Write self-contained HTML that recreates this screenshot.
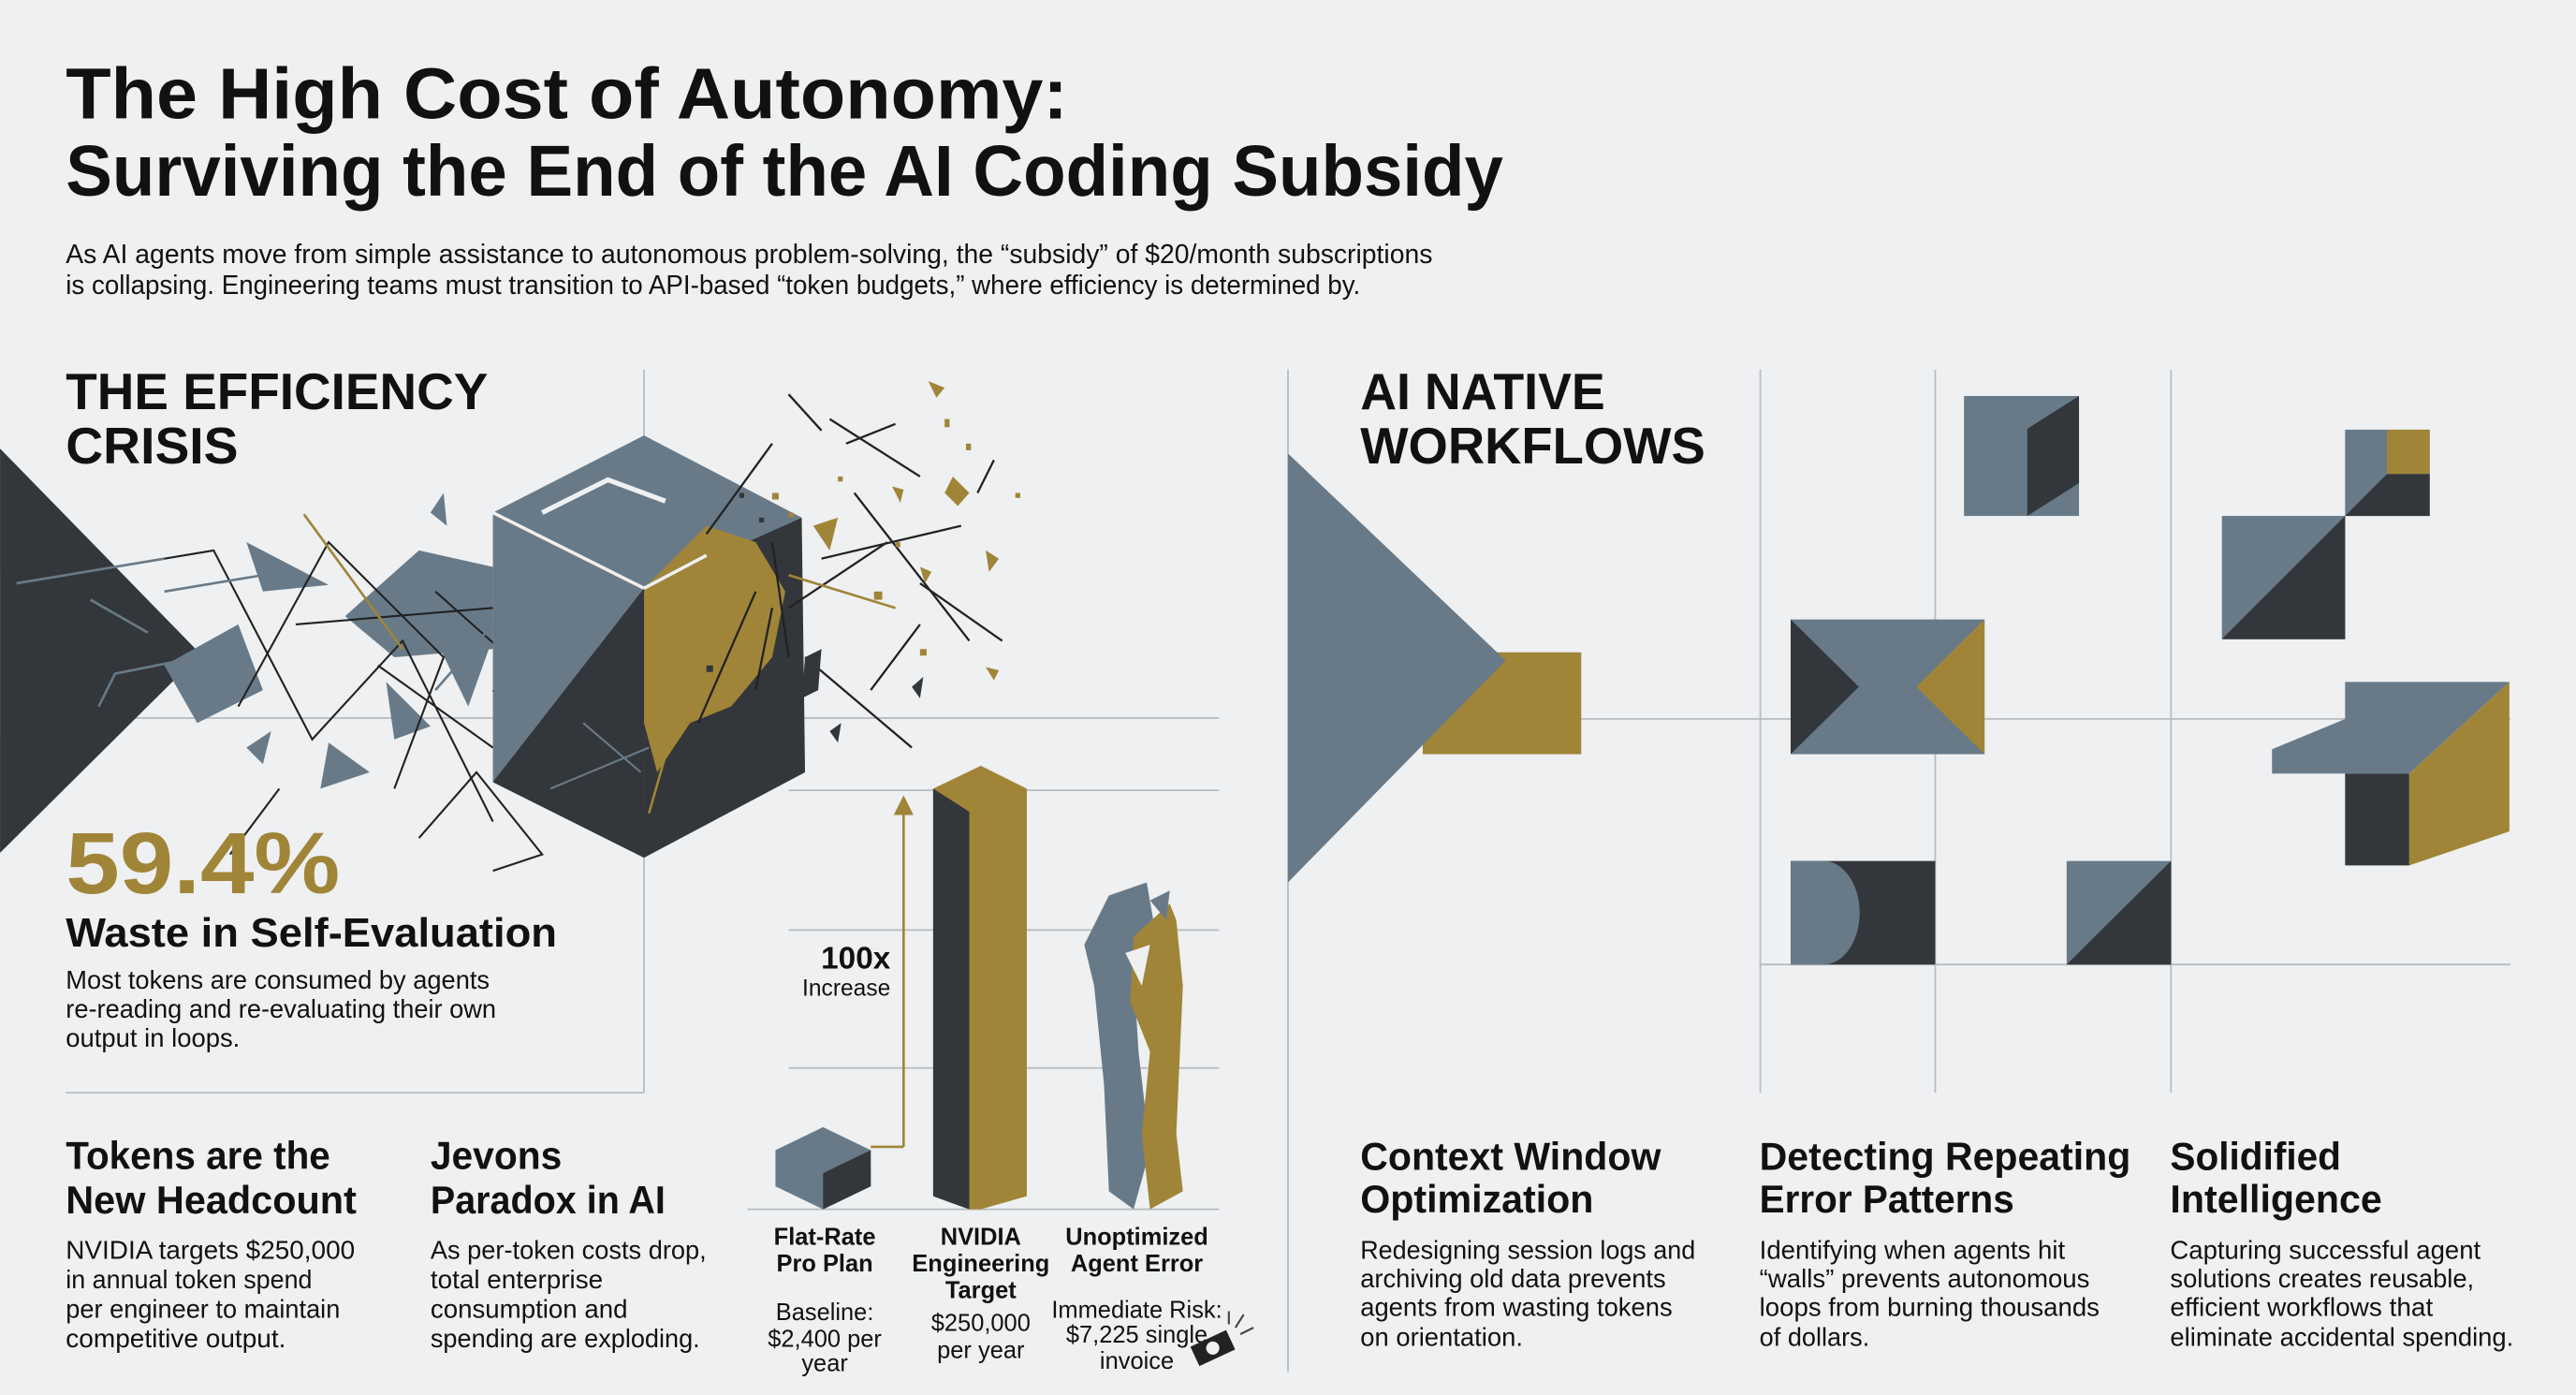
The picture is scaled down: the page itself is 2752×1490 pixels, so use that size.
<!DOCTYPE html>
<html><head><meta charset="utf-8"><style>
html,body{margin:0;padding:0;background:#eef0f1;}
svg{display:block;}
text{font-family:"Liberation Sans",Arial,sans-serif;fill:#111;}
.b{font-weight:bold;}
</style></head><body>
<svg width="2752" height="1490" viewBox="0 0 1568 849" xmlns="http://www.w3.org/2000/svg">
<rect width="1568" height="849" fill="#eef0f1"/>
<!-- grid lines left -->
<g stroke="#b8bcc0" stroke-width="1" fill="none">
<line x1="392" y1="225" x2="392" y2="665"/>
<line x1="40" y1="437" x2="742" y2="437"/>
<line x1="480" y1="481" x2="742" y2="481"/>
<line x1="480" y1="566" x2="742" y2="566"/>
<line x1="480" y1="650" x2="742" y2="650"/>
<line x1="40" y1="665" x2="392" y2="665"/>
<line x1="455" y1="736" x2="742" y2="736"/>
<!-- right grid -->
<line x1="784" y1="225" x2="784" y2="835"/>
<line x1="1071.5" y1="225" x2="1071.5" y2="665"/>
<line x1="1178" y1="225" x2="1178" y2="665"/>
<line x1="1321.5" y1="225" x2="1321.5" y2="665"/>
<line x1="960" y1="437.5" x2="1528" y2="437.5"/>
<line x1="1071" y1="587" x2="1528" y2="587"/>
</g>

<!-- titles -->
<text x="40" y="72" class="b" font-size="44" textLength="610" lengthAdjust="spacingAndGlyphs">The High Cost of Autonomy:</text>
<text x="40" y="119" class="b" font-size="44" textLength="875" lengthAdjust="spacingAndGlyphs">Surviving the End of the AI Coding Subsidy</text>
<text x="40" y="160" font-size="16.5" textLength="832" lengthAdjust="spacingAndGlyphs">As AI agents move from simple assistance to autonomous problem-solving, the “subsidy” of $20/month subscriptions</text>
<text x="40" y="179" font-size="16.5" textLength="788" lengthAdjust="spacingAndGlyphs">is collapsing. Engineering teams must transition to API-based “token budgets,” where efficiency is determined by.</text>

<text x="40" y="249" class="b" font-size="31" textLength="257" lengthAdjust="spacingAndGlyphs">THE EFFICIENCY</text>
<text x="40" y="282" class="b" font-size="31" textLength="105" lengthAdjust="spacingAndGlyphs">CRISIS</text>
<text x="828" y="249" class="b" font-size="31" textLength="149" lengthAdjust="spacingAndGlyphs">AI NATIVE</text>
<text x="828" y="282" class="b" font-size="31" textLength="210" lengthAdjust="spacingAndGlyphs">WORKFLOWS</text>

<!-- left dark triangle -->
<polygon points="0,273 122,398 0,519" fill="#33363a"/>
<!-- shards left -->
<g fill="#687a88">
<polygon points="150,330 200,356 160,360"/>
<polygon points="262,312 270,300 272,320"/>
<polygon points="200,452 225,470 195,480"/>
<polygon points="150,455 165,445 160,465"/>
<polygon points="210,375 255,335 300,345 300,395 240,400"/>
<polygon points="100,405 145,380 160,420 120,440"/>
<polygon points="268,395 300,388 285,430"/>
<polygon points="235,415 262,442 240,450"/>
<polygon points="345,480 360,470 352,500"/>
</g>
<g stroke="#222" stroke-width="1.2" fill="none">
<polyline points="70,345 130,335 190,450 245,390 300,500"/>
<polyline points="145,430 200,330 270,400 240,480"/>
<polyline points="255,510 290,470 330,520 300,530"/>
<line x1="265" y1="360" x2="355" y2="440"/>
<line x1="180" y1="380" x2="300" y2="370"/>
<line x1="300" y1="420" x2="330" y2="470"/>
<line x1="140" y1="520" x2="170" y2="480"/>
<line x1="230" y1="405" x2="300" y2="455"/>
</g>
<g stroke="#687a88" stroke-width="1.5" fill="none">
<line x1="10" y1="355" x2="100" y2="340"/>
<line x1="100" y1="360" x2="160" y2="350"/>
<line x1="55" y1="365" x2="90" y2="385"/>
<polyline points="60,430 70,410 120,400"/>
<line x1="265" y1="420" x2="300" y2="380"/>
</g>
<line x1="185" y1="313" x2="245" y2="395" stroke="#a08538" stroke-width="1.5"/>

<!-- cube -->
<polygon points="392,265 488,315 392,358 300,312" fill="#687a88"/>
<polygon points="300,312 392,358 392,522 300,476" fill="#687a88"/>
<polygon points="300,476 392,358 392,522" fill="#33363a"/>
<polygon points="392,358 488,315 490,470 392,522" fill="#33363a"/>
<polygon points="392,358 430,320 460,330 478,360 470,400 445,430 420,440 400,470 392,440" fill="#a08538"/>
<polyline points="330,312 370,292 405,305" stroke="#eef0f1" stroke-width="3" fill="none"/>
<line x1="392" y1="358" x2="300" y2="312" stroke="#eef0f1" stroke-width="2"/>
<line x1="392" y1="358" x2="430" y2="338" stroke="#eef0f1" stroke-width="2"/>
<g stroke="#687a88" stroke-width="1.2" fill="none">
<line x1="335" y1="480" x2="395" y2="455"/>
<line x1="355" y1="440" x2="390" y2="470"/>
</g>
<g stroke="#222" stroke-width="1.3" fill="none">
<line x1="430" y1="325" x2="470" y2="270"/>
<line x1="505" y1="255" x2="560" y2="290"/>
<line x1="480" y1="240" x2="500" y2="262"/>
<line x1="515" y1="270" x2="545" y2="258"/>
<line x1="470" y1="330" x2="480" y2="400"/>
<line x1="500" y1="340" x2="585" y2="320"/>
<line x1="520" y1="300" x2="590" y2="390"/>
<line x1="480" y1="370" x2="540" y2="330"/>
<line x1="530" y1="420" x2="560" y2="380"/>
<line x1="560" y1="355" x2="610" y2="390"/>
<line x1="490" y1="400" x2="555" y2="455"/>
<line x1="425" y1="440" x2="460" y2="360"/>
<line x1="460" y1="420" x2="470" y2="370"/>
<line x1="595" y1="300" x2="605" y2="280"/>
</g>
<g stroke="#a08538" stroke-width="1.5" fill="none">
<line x1="480" y1="350" x2="545" y2="370"/>
<line x1="395" y1="495" x2="405" y2="460"/>
</g>
<g fill="#a08538">
<polygon points="565,232 575,236 570,242"/>
<polygon points="580,290 590,300 583,308 575,300"/>
<polygon points="600,335 608,340 602,348"/>
<polygon points="543,296 550,298 548,306"/>
<polygon points="560,345 567,348 563,355"/>
<polygon points="600,406 608,408 605,414"/>
<polygon points="495,320 510,315 505,335"/>
<rect x="575" y="255" width="3" height="5"/>
<rect x="588" y="270" width="3" height="4"/>
<rect x="532" y="360" width="5" height="5"/>
<rect x="560" y="395" width="4" height="4"/>
<rect x="470" y="300" width="4" height="4"/>
<rect x="455" y="345" width="5" height="5"/>
<rect x="480" y="312" width="3" height="3"/>
<rect x="510" y="290" width="3" height="3"/>
<rect x="545" y="330" width="3" height="3"/>
<rect x="618" y="300" width="3" height="3"/>
</g>
<g fill="#33363a">
<polygon points="490,400 500,395 498,420 488,425"/>
<polygon points="505,445 512,440 510,452"/>
<polygon points="555,418 562,412 560,425"/>
<rect x="450" y="300" width="3" height="3"/>
<rect x="462" y="315" width="3" height="3"/>
<rect x="430" y="405" width="4" height="4"/>
</g>

<!-- left stats -->
<text x="40" y="543.6" class="b" font-size="53" fill="#a08538" style="fill:#a08538" textLength="167" lengthAdjust="spacingAndGlyphs">59.4%</text>
<text x="40" y="576" class="b" font-size="25" textLength="299" lengthAdjust="spacingAndGlyphs">Waste in Self-Evaluation</text>
<g font-size="16">
<text x="40" y="601.8" textLength="258" lengthAdjust="spacingAndGlyphs">Most tokens are consumed by agents</text>
<text x="40" y="619.4" textLength="262" lengthAdjust="spacingAndGlyphs">re-reading and re-evaluating their own</text>
<text x="40" y="637" textLength="106" lengthAdjust="spacingAndGlyphs">output in loops.</text>
</g>
<g class="b" font-size="24">
<text x="40" y="711.5" class="b" textLength="161" lengthAdjust="spacingAndGlyphs">Tokens are the</text>
<text x="40" y="738.5" class="b" textLength="177" lengthAdjust="spacingAndGlyphs">New Headcount</text>
<text x="262" y="711.5" class="b" textLength="80" lengthAdjust="spacingAndGlyphs">Jevons</text>
<text x="262" y="738.5" class="b" textLength="143" lengthAdjust="spacingAndGlyphs">Paradox in AI</text>
</g>
<g font-size="16">
<text x="40" y="766" textLength="176" lengthAdjust="spacingAndGlyphs">NVIDIA targets $250,000</text>
<text x="40" y="784" textLength="150" lengthAdjust="spacingAndGlyphs">in annual token spend</text>
<text x="40" y="802" textLength="167" lengthAdjust="spacingAndGlyphs">per engineer to maintain</text>
<text x="40" y="820" textLength="134" lengthAdjust="spacingAndGlyphs">competitive output.</text>
<text x="262" y="766" textLength="168" lengthAdjust="spacingAndGlyphs">As per-token costs drop,</text>
<text x="262" y="784" textLength="105" lengthAdjust="spacingAndGlyphs">total enterprise</text>
<text x="262" y="802" textLength="120" lengthAdjust="spacingAndGlyphs">consumption and</text>
<text x="262" y="820" textLength="164" lengthAdjust="spacingAndGlyphs">spending are exploding.</text>
</g>

<!-- chart -->
<polygon points="501,686 530,700 530,722 501,736 472,722 472,700" fill="#687a88"/>
<polygon points="501,714 530,700 530,722 501,736" fill="#33363a"/>
<line x1="530" y1="698" x2="550" y2="698" stroke="#a08538" stroke-width="1.5"/>
<line x1="550" y1="698" x2="550" y2="494" stroke="#a08538" stroke-width="1.5"/>
<polygon points="544,496 556,496 550,484" fill="#a08538"/>
<text x="542" y="589.6" class="b" font-size="19" text-anchor="end">100x</text>
<text x="542" y="606" font-size="14" text-anchor="end">Increase</text>
<polygon points="568,480 597,466 625,480 625,728 597,736 590,736 568,728" fill="#a08538"/>
<polygon points="568,480 590,494 590,736 568,728" fill="#33363a"/>
<polygon points="675,545 698,537 702,560 690,590 693,640 700,700 690,736 675,725 672,660 666,600 660,575" fill="#687a88"/>
<polygon points="690,570 712,550 716,560 720,600 716,690 720,725 700,736 695,690 700,640 688,610" fill="#a08538"/>
<polygon points="700,548 712,542 710,560" fill="#687a88"/>
<polygon points="685,580 700,575 695,600" fill="#eef0f1"/>
<g font-size="14.5" text-anchor="middle">
<text x="502" y="757.5" class="b">Flat-Rate</text>
<text x="502" y="773.7" class="b">Pro Plan</text>
<text x="502" y="803.5">Baseline:</text>
<text x="502" y="819.7">$2,400 per</text>
<text x="502" y="834.6">year</text>
<text x="597" y="757.5" class="b">NVIDIA</text>
<text x="597" y="773.7" class="b">Engineering</text>
<text x="597" y="790" class="b">Target</text>
<text x="597" y="810">$250,000</text>
<text x="597" y="826.5">per year</text>
<text x="692" y="757.5" class="b">Unoptimized</text>
<text x="692" y="773.7" class="b">Agent Error</text>
<text x="692" y="802">Immediate Risk:</text>
<text x="692" y="817">$7,225 single</text>
<text x="692" y="833">invoice</text>
</g>
<g transform="translate(738,820) rotate(-25)">
<rect x="-12" y="-6" width="24" height="13" fill="#222"/>
<circle cx="0" cy="0.5" r="4" fill="#eef0f1"/>
</g>
<g stroke="#444" stroke-width="1.2"><line x1="752" y1="808" x2="757" y2="800"/><line x1="755" y1="812" x2="763" y2="808"/><line x1="748" y1="806" x2="748" y2="798"/></g>

<!-- right shapes -->
<rect x="866" y="397" width="96.5" height="62" fill="#a08538"/>
<polygon points="784,276 916.5,402 784,537" fill="#687a88"/>
<rect x="1195.5" y="241" width="70" height="73" fill="#687a88"/>
<polygon points="1234,261 1265.5,241 1265.5,294 1234,314" fill="#33363a"/>
<rect x="1090" y="377" width="118" height="82" fill="#687a88"/>
<polygon points="1090,377 1131.5,418 1090,459" fill="#33363a"/>
<polygon points="1208,377 1166.5,418 1208,459" fill="#a08538"/>
<rect x="1090" y="524" width="88" height="63" fill="#33363a"/>
<path d="M1090,524 L1110,524 A22,31.5 0 0 1 1110,587 L1090,587 Z" fill="#687a88"/>
<rect x="1258" y="524" width="63.5" height="63" fill="#687a88"/>
<polygon points="1258,587 1321.5,524 1321.5,587" fill="#33363a"/>
<rect x="1427.5" y="261.5" width="51.5" height="52.5" fill="#687a88"/>
<rect x="1453" y="261.5" width="26" height="27" fill="#a08538"/>
<polygon points="1427.5,314 1453,288.5 1479,288.5 1479,314" fill="#33363a"/>
<rect x="1352.5" y="314" width="75" height="75" fill="#687a88"/>
<polygon points="1352.5,389 1427.5,314 1427.5,389" fill="#33363a"/>
<polygon points="1427.5,415 1527.5,415 1466.5,470.8 1383,470.8 1383,456 1427.5,437.6" fill="#687a88"/>
<polygon points="1527.5,415 1527.5,506 1466.5,526.7 1466.5,470.8" fill="#a08538"/>
<rect x="1427.5" y="470.8" width="39" height="55.9" fill="#33363a"/>

<!-- right text -->
<g font-size="24">
<text x="828" y="712" class="b" textLength="183" lengthAdjust="spacingAndGlyphs">Context Window</text>
<text x="828" y="738" class="b" textLength="142" lengthAdjust="spacingAndGlyphs">Optimization</text>
<text x="1071" y="712" class="b" textLength="226" lengthAdjust="spacingAndGlyphs">Detecting Repeating</text>
<text x="1071" y="738" class="b" textLength="155" lengthAdjust="spacingAndGlyphs">Error Patterns</text>
<text x="1321" y="712" class="b" textLength="104" lengthAdjust="spacingAndGlyphs">Solidified</text>
<text x="1321" y="738" class="b" textLength="129" lengthAdjust="spacingAndGlyphs">Intelligence</text>
</g>
<g font-size="16">
<text x="828" y="766" textLength="204" lengthAdjust="spacingAndGlyphs">Redesigning session logs and</text>
<text x="828" y="783.6" textLength="186" lengthAdjust="spacingAndGlyphs">archiving old data prevents</text>
<text x="828" y="801" textLength="190" lengthAdjust="spacingAndGlyphs">agents from wasting tokens</text>
<text x="828" y="819" textLength="99" lengthAdjust="spacingAndGlyphs">on orientation.</text>
<text x="1071" y="766" textLength="186" lengthAdjust="spacingAndGlyphs">Identifying when agents hit</text>
<text x="1071" y="783.6" textLength="201" lengthAdjust="spacingAndGlyphs">“walls” prevents autonomous</text>
<text x="1071" y="801" textLength="207" lengthAdjust="spacingAndGlyphs">loops from burning thousands</text>
<text x="1071" y="819" textLength="67" lengthAdjust="spacingAndGlyphs">of dollars.</text>
<text x="1321" y="766" textLength="189" lengthAdjust="spacingAndGlyphs">Capturing successful agent</text>
<text x="1321" y="783.6" textLength="185" lengthAdjust="spacingAndGlyphs">solutions creates reusable,</text>
<text x="1321" y="801" textLength="160" lengthAdjust="spacingAndGlyphs">efficient workflows that</text>
<text x="1321" y="819" textLength="209" lengthAdjust="spacingAndGlyphs">eliminate accidental spending.</text>
</g>
</svg>
</body></html>
